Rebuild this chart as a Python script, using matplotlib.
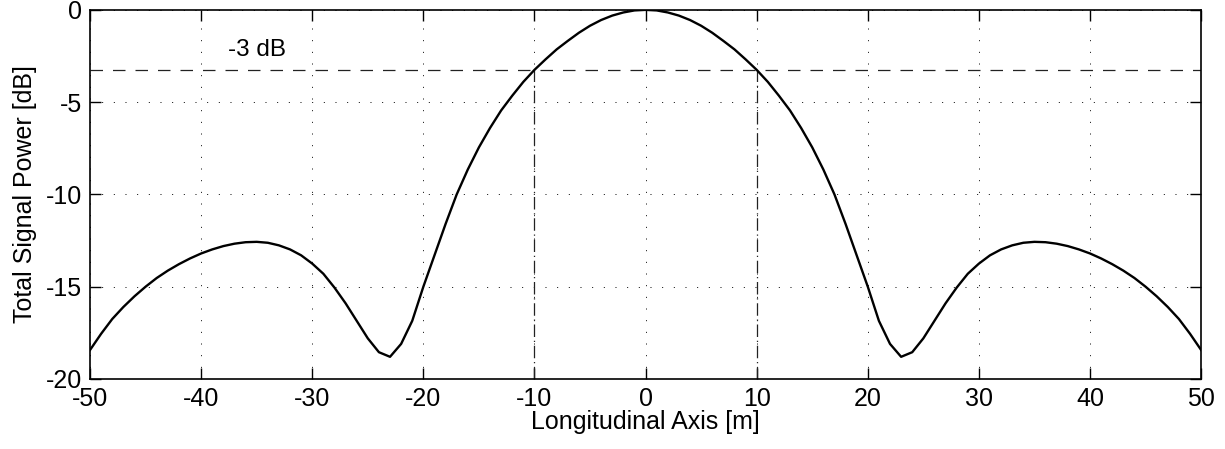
import numpy as np
import matplotlib
matplotlib.use("Agg")
import matplotlib.pyplot as plt

plt.rcParams['font.family'] = ['Liberation Sans', 'DejaVu Sans']
plt.rcParams['axes.unicode_minus'] = False

# longitudinal position [m], 1 m steps
x_pos = np.arange(-50, 51)

# total signal power [dB]
power_db = [
    -18.43, -17.55, -16.75, -16.10, -15.52, -15.00, -14.53, -14.13, -13.78, -13.47,   # -50..-41
    -13.20, -12.98, -12.80, -12.67, -12.59, -12.57, -12.62, -12.76, -12.98, -13.30,   # -40..-31
    -13.75, -14.30, -15.05, -15.90, -16.85, -17.80, -18.55, -18.80, -18.10, -16.85,   # -30..-21
    -15.00, -13.30, -11.60, -10.00, -8.65, -7.45, -6.40, -5.45, -4.65, -3.90,         # -20..-11
    -3.25, -2.68, -2.14, -1.68, -1.24, -0.86, -0.55, -0.31, -0.14, -0.03,             # -10..-1
    0.00,                                                                              # 0
    -0.03, -0.14, -0.31, -0.55, -0.86, -1.24, -1.68, -2.14, -2.68, -3.25,             # 1..10
    -3.90, -4.65, -5.45, -6.40, -7.45, -8.65, -10.00, -11.60, -13.30, -15.00,         # 11..20
    -16.85, -18.10, -18.80, -18.55, -17.80, -16.85, -15.90, -15.05, -14.30, -13.75,   # 21..30
    -13.30, -12.98, -12.76, -12.62, -12.57, -12.59, -12.67, -12.80, -12.98, -13.20,   # 31..40
    -13.47, -13.78, -14.13, -14.53, -15.00, -15.52, -16.10, -16.75, -17.55, -18.43,   # 41..50
]

level_3db = -3.25
width_3db = [-10, 10]

fig = plt.figure(figsize=(12.25, 4.49), dpi=100)
ax = fig.add_axes([0.0735, 0.156, 0.907, 0.822])

ax.plot(x_pos, power_db, color='black', lw=1.7, zorder=3)

# -3 dB level and beam width markers
ax.axhline(level_3db, color='#222222', lw=0.9, dashes=(10, 8), zorder=2)
for xv in width_3db:
    ax.plot([xv, xv], [-20, level_3db], color='#222222', lw=0.9,
            dashes=(10, 3, 1, 3), zorder=2)
ax.text(-37.6, -2.2, '-3 dB', fontsize=17.5, va='center', ha='left')

ax.set_xlim(-50, 50)
ax.set_ylim(-20, 0)
ax.set_xticks(np.arange(-50, 51, 10))
ax.set_yticks(np.arange(-20, 1, 5))
ax.grid(True, color='black', linestyle=(0, (1, 11)), lw=0.7)
ax.tick_params(direction='in', length=8, width=1, top=True, right=True,
               labelsize=18, pad=6)
for s in ax.spines.values():
    s.set_linewidth(1.2)

ax.set_xlabel('Longitudinal Axis [m]', fontsize=18, labelpad=-1)
ax.set_ylabel('Total Signal Power [dB]', fontsize=18, labelpad=6)

fig.savefig('out.png', dpi=100)
